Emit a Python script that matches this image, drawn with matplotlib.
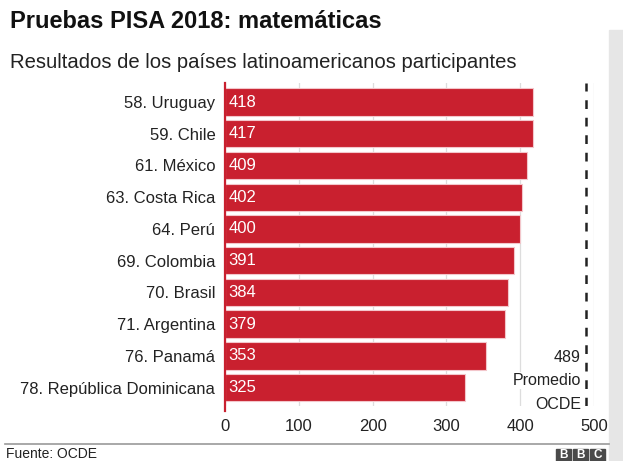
import matplotlib.pyplot as plt
from matplotlib.patches import Rectangle

plt.rcParams['font.family'] = ['Liberation Sans', 'DejaVu Sans']

countries = ['58. Uruguay', '59. Chile', '61. México', '63. Costa Rica', '64. Perú',
             '69. Colombia', '70. Brasil', '71. Argentina', '76. Panamá',
             '78. República Dominicana']
scores = [418, 417, 409, 402, 400, 391, 384, 379, 353, 325]
oecd_avg = 489
oecd_label = ['489', 'Promedio', 'OCDE']
xticks = [0, 100, 200, 300, 400, 500]

RED = '#c9202f'
W, H = 623, 461

fig = plt.figure(figsize=(W / 100, H / 100), dpi=100)

# grey side panel
fig.patches.append(Rectangle((609 / W, 0), 14 / W, 1 - 30 / H, transform=fig.transFigure,
                             color='#e6e6e6', zorder=0))

ax = fig.add_axes([225 / W, 1 - 406 / H, 369 / W, 323 / H])
ypos = list(range(len(countries)))
ax.barh(ypos, scores, height=0.86, color=RED, edgecolor='#f3c6cb', linewidth=0.8, zorder=2)
for y, v in zip(ypos, scores):
    ax.text(5, y, str(v), color='white', va='center', ha='left', fontsize=12, zorder=3)

ax.set_xlim(0, 500)
ax.set_ylim(9.58, -0.6)
ax.set_yticks(ypos)
ax.set_yticklabels(countries, fontsize=12, color='#222222')
ax.set_xticks(xticks)
ax.set_xticklabels([str(t) for t in xticks], fontsize=12, color='#222222')
ax.tick_params(axis='y', length=0, pad=7)
ax.tick_params(axis='x', length=0, pad=9)
for s in ax.spines.values():
    s.set_visible(False)
ax.grid(axis='x', color='#dddddd', linewidth=0.9, zorder=0)
ax.set_axisbelow(True)
ax.plot([0, 0], [9.75, -0.6], color=RED, linewidth=1.6, zorder=3, clip_on=False)
ax.axvline(oecd_avg, color='#222222', linewidth=1.8, linestyle=(0, (3.5, 3.5)), zorder=3)

# OCDE average note, stacked lines
for i, line in enumerate(oecd_label):
    fig.text(581 / W, 1 - (357 + i * 23.5) / H, line, ha='right', va='center',
             fontsize=11.5, color='#222222', zorder=4,
             bbox=dict(facecolor='white', edgecolor='none', pad=0.5))

fig.text(10 / W, 1 - 22 / H, 'Pruebas PISA 2018: matemáticas', fontsize=17,
         fontweight='bold', va='center', ha='left', color='#111111')
fig.text(10 / W, 1 - 62 / H, 'Resultados de los países latinoamericanos participantes',
         fontsize=14.6, va='center', ha='left', color='#222222')

# bottom rule and source
fig.add_artist(plt.Line2D([5 / W, 609 / W], [1 - 444 / H, 1 - 444 / H],
                          transform=fig.transFigure, color='#999999', linewidth=1.2))
fig.text(6 / W, 1 - 454 / H, 'Fuente: OCDE', fontsize=10, va='center', ha='left',
         color='#222222')

# BBC blocks
for i, letter in enumerate('BBC'):
    x0 = (556 + i * 17) / W
    fig.patches.append(Rectangle((x0, 0), 15 / W, 12 / H, transform=fig.transFigure,
                                 color='#4a4a4a', zorder=5))
    fig.text(x0 + 7.5 / W, 6 / H, letter, color='white', fontsize=8.5, fontweight='bold',
             ha='center', va='center', zorder=6)

fig.savefig('out.png', dpi=100, facecolor='white')
